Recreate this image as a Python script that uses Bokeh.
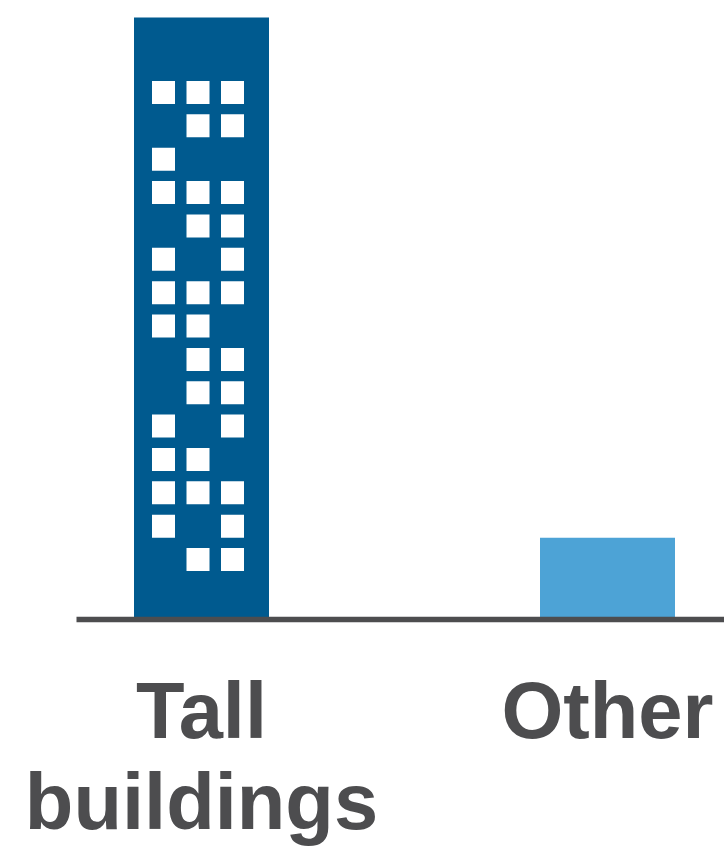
from bokeh.embed import file_html
from bokeh.models import ColumnDataSource, FixedTicker, Range1d
from bokeh.plotting import figure
from bokeh.resources import INLINE

categories = ["Tall\nbuildings", "Other"]
values = [100, 13.6]
bar_colors = ["#005A8F", "#4DA3D6"]

# Lit windows of the tower, top storey first, one digit per column.
window_rows = [
    "111", "011", "100", "111", "011",
    "101", "111", "110", "011", "011",
    "101", "110", "111", "101", "011",
]

INK = "#4D4D4F"
WIDTH, HEIGHT = 724, 847
LEFT, BOTTOM = 76, 228
PX_PER_CATEGORY = 406
PX_PER_VALUE = 6.02
FIRST_CENTER_PX = 125.0

plot_w = WIDTH - LEFT
plot_h = HEIGHT - BOTTOM

p = figure(
    width=WIDTH, height=HEIGHT,
    frame_width=plot_w, frame_height=plot_h,
    output_backend="svg", toolbar_location=None,
    x_range=Range1d(-FIRST_CENTER_PX / PX_PER_CATEGORY,
                    (plot_w - FIRST_CENTER_PX) / PX_PER_CATEGORY),
    y_range=Range1d(0, plot_h / PX_PER_VALUE),
    min_border_left=LEFT, min_border_right=0,
    min_border_top=0, min_border_bottom=0,
)
p.outline_line_color = None
p.background_fill_color = "white"
p.grid.visible = False
p.yaxis.visible = False

positions = list(range(len(categories)))
p.vbar(
    source=ColumnDataSource(dict(x=positions, top=values, color=bar_colors)),
    x="x", top="top", bottom=0, width=135 / PX_PER_CATEGORY,
    fill_color="color", line_color=None,
)

# Window grid measured from the top of the tower.
WINDOW = 23
COLUMN_STEP = 34.5
ROW_STEP = 33.36
GRID_TOP = 63.5    # below the top of the tower
GRID_LEFT = 18     # from the left edge of the tower

win_x, win_y = [], []
tower_left = -135 / 2
for r, row in enumerate(window_rows):
    for c, lit in enumerate(row):
        if lit == "1":
            win_x.append((tower_left + GRID_LEFT + WINDOW / 2 + c * COLUMN_STEP) / PX_PER_CATEGORY)
            win_y.append(values[0] - (GRID_TOP + WINDOW / 2 + r * ROW_STEP) / PX_PER_VALUE)

p.rect(
    x=win_x, y=win_y,
    width=WINDOW / PX_PER_CATEGORY, height=WINDOW / PX_PER_VALUE,
    fill_color="white", line_color=None,
)

axis = p.xaxis[0]
axis.ticker = FixedTicker(ticks=positions)
axis.major_label_overrides = {i: c for i, c in zip(positions, categories)}
axis.axis_line_color = INK
axis.axis_line_width = 5.5
axis.major_tick_line_color = None
axis.minor_tick_line_color = None
axis.major_label_standoff = 40
axis.major_label_orientation = "horizontal"
axis.major_label_text_font = "Liberation Sans"
axis.major_label_text_font_style = "bold"
axis.major_label_text_font_size = "79.5px"
axis.major_label_text_baseline = "hanging"
axis.major_label_text_color = INK
axis.major_label_text_line_height = 1.03

open("out.html", "w").write(file_html(p, INLINE))
